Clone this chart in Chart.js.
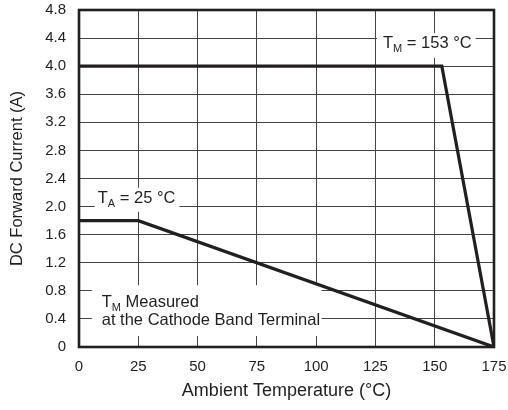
<!DOCTYPE html>
<html>
<head>
<meta charset="utf-8">
<script src="https://cdn.jsdelivr.net/npm/chart.js@4.4.1/dist/chart.umd.min.js"></script>
<style>
  html, body { margin: 0; padding: 0; background: #fff; }
  #wrap { width: 508px; height: 410px; }
</style>
</head>
<body>
<div id="wrap"><canvas id="derating" width="508" height="410"></canvas></div>
<script>
// Derating curves: DC forward current vs ambient temperature
const mountTemp = [0, 153, 175];          // T_M curve x (°C)
const mountCurrent = [4.0, 4.0, 0];       // A
const ambientTemp = [0, 25, 175];         // T_A curve x (°C)
const ambientCurrent = [1.8, 1.8, 0];     // A

const xTicks = [0, 25, 50, 75, 100, 125, 150, 175];
const yTicks = [0, 0.4, 0.8, 1.2, 1.6, 2.0, 2.4, 2.8, 3.2, 3.6, 4.0, 4.4, 4.8];

const ink = '#231f20';
const fontFam = "'Liberation Sans', Arial, Helvetica, sans-serif";

Chart.defaults.font.family = fontFam;
Chart.defaults.color = ink;

function toPoints(xs, ys) {
    return xs.map((x, i) => ({ x: x, y: ys[i] }));
}

// Boxed notes: anchor = text left / first baseline in data units.
// pad = [left, right, top(above baseline), bottom(below last baseline)] px
const notes = [
    { x: 128.2, y: 4.26, lines: [[['T', ''], ['M', 'sub'], [' = 153 °C', '']]], pad: [6, 4, 15, 10] },
    { x: 7.9, y: 2.055, lines: [[['T', ''], ['A', 'sub'], [' = 25 °C', '']]], pad: [3, 4, 15, 9] },
    { x: 9.6, y: 0.574, lines: [
        [['T', ''], ['M', 'sub'], [' Measured', '']],
        [['at the Cathode Band Terminal', '']]
    ], pad: [10, 1.5, 21.5, 11] }
];

const notesPlugin = {
    id: 'boxedNotes',
    beforeDatasetsDraw(chart) {
        const ctx = chart.ctx;
        const xs = chart.scales.x, ys = chart.scales.y;
        const fs = 16.5, sub = 11, lh = 18.3;
        ctx.save();
        notes.forEach(n => {
            const widths = n.lines.map(line => line.reduce((w, seg) => {
                ctx.font = (seg[1] === 'sub' ? sub : fs) + 'px ' + fontFam;
                return w + ctx.measureText(seg[0]).width;
            }, 0));
            const w = Math.max(...widths);
            const left = xs.getPixelForValue(n.x);
            const base0 = ys.getPixelForValue(n.y);
            const lastBase = base0 + lh * (n.lines.length - 1);
            ctx.fillStyle = '#fff';
            ctx.fillRect(left - n.pad[0], base0 - n.pad[2],
                w + n.pad[0] + n.pad[1], lastBase - base0 + n.pad[2] + n.pad[3]);
            ctx.fillStyle = ink;
            ctx.textBaseline = 'alphabetic';
            n.lines.forEach((line, li) => {
                let px = left;
                const base = base0 + lh * li;
                line.forEach(seg => {
                    const isSub = seg[1] === 'sub';
                    ctx.font = (isSub ? sub : fs) + 'px ' + fontFam;
                    ctx.fillText(seg[0], px, base + (isSub ? 4 : 0));
                    px += ctx.measureText(seg[0]).width;
                });
            });
        });
        ctx.restore();
    },
    afterDraw(chart) {
        const a = chart.chartArea, ctx = chart.ctx;
        ctx.save();
        ctx.strokeStyle = ink;
        ctx.lineWidth = 2.6;
        ctx.strokeRect(a.left, a.top, a.right - a.left, a.bottom - a.top);
        ctx.restore();
    }
};

new Chart(document.getElementById('derating'), {
    type: 'line',
    data: {
        datasets: [
            {
                label: 'T_M',
                data: toPoints(mountTemp, mountCurrent),
                borderColor: ink,
                borderWidth: 3.2,
                pointRadius: 0,
                tension: 0
            },
            {
                label: 'T_A',
                data: toPoints(ambientTemp, ambientCurrent),
                borderColor: ink,
                borderWidth: 3.2,
                pointRadius: 0,
                tension: 0
            }
        ]
    },
    options: {
        responsive: false,
        animation: false,
        layout: { padding: { left: 0, right: 14, top: 10, bottom: 0 } },
        plugins: { legend: { display: false }, tooltip: { enabled: false } },
        scales: {
            x: {
                type: 'linear',
                min: 0, max: 175,
                afterBuildTicks: s => { s.ticks = xTicks.map(v => ({ value: v })); },
                afterFit: s => { s.height = 63; s.paddingLeft = 0; s.paddingRight = 0; },
                ticks: { font: { size: 15 }, color: ink, padding: 11 },
                grid: { color: '#444', lineWidth: 1, drawTicks: false },
                border: { display: false },
                title: { display: true, text: 'Ambient Temperature (°C)', font: { size: 18 }, color: ink, padding: { top: 0, bottom: 8 } }
            },
            y: {
                min: 0, max: 4.8,
                afterBuildTicks: s => { s.ticks = yTicks.map(v => ({ value: v })); },
                afterFit: s => { s.width = 79; s.paddingTop = 0; s.paddingBottom = 0; },
                ticks: {
                    font: { size: 15 }, color: ink, padding: 13,
                    callback: v => v === 0 ? '0' : v.toFixed(1)
                },
                grid: { color: '#444', lineWidth: 1, drawTicks: false },
                border: { display: false },
                title: { display: true, text: 'DC Forward Current (A)', font: { size: 16.5 }, color: ink, padding: { top: 8, bottom: 0 } }
            }
        }
    },
    plugins: [notesPlugin]
});
</script>
</body>
</html>
